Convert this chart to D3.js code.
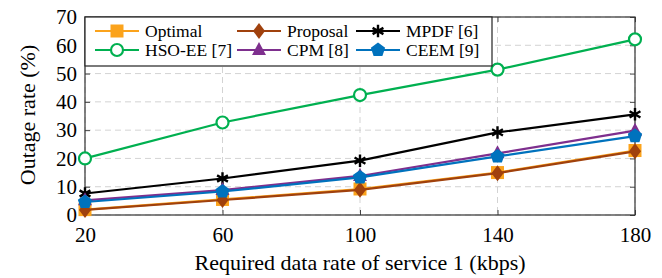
<!DOCTYPE html>
<html>
<head>
<meta charset="utf-8">
<script src="https://cdn.jsdelivr.net/npm/d3@7"></script>
<style>
  body { margin: 0; background: #fff; }
  text { font-family: "Liberation Serif", "DejaVu Serif", serif; fill: #000; }
</style>
</head>
<body>
<div id="chart"></div>
<script>
// data
const rates = [20, 60, 100, 140, 180];
const yTicks = [0, 10, 20, 30, 40, 50, 60, 70];
const optimal = [1.9, 5.5, 9.2, 15.0, 22.8];
const proposal = [1.8, 5.3, 8.9, 14.8, 22.5];
const mpdf = [7.6, 12.9, 19.2, 29.2, 35.6];
const hsoee = [20.0, 32.7, 42.4, 51.4, 62.1];
const cpm = [5.2, 8.8, 13.8, 21.8, 29.8];
const ceem = [4.6, 8.3, 13.3, 20.7, 27.9];

const series = [
    { name: "Optimal", values: optimal, color: "#FBA31C", marker: "square" },
    { name: "Proposal", values: proposal, color: "#A0410D", marker: "diamond" },
    { name: "MPDF [6]", values: mpdf, color: "#000000", marker: "star" },
    { name: "HSO-EE [7]", values: hsoee, color: "#00B050", marker: "circle" },
    { name: "CPM [8]", values: cpm, color: "#7E2F8E", marker: "triangle" },
    { name: "CEEM [9]", values: ceem, color: "#0072BD", marker: "pentagon" }
];

const W = 662, H = 278;
const margin = { top: 17, right: 27, bottom: 63, left: 85 };
const width = W - margin.left - margin.right,
    height = H - margin.top - margin.bottom;

const svg = d3.select("#chart").append("svg")
    .attr("width", W).attr("height", H);
const g = svg.append("g")
    .attr("transform", `translate(${margin.left},${margin.top})`);

const x = d3.scaleLinear().domain([20, 180]).range([0, width]);
const y = d3.scaleLinear().domain([0, 70]).range([height, 0]);

// grid
g.append("g").selectAll("line").data(rates).enter().append("line")
    .attr("x1", d => x(d)).attr("x2", d => x(d))
    .attr("y1", 0).attr("y2", height)
    .attr("stroke", "#c8c8c8").attr("stroke-dasharray", "6,4").attr("stroke-width", 0.8);
g.append("g").selectAll("line").data(yTicks).enter().append("line")
    .attr("x1", 0).attr("x2", width)
    .attr("y1", d => y(d)).attr("y2", d => y(d))
    .attr("stroke", "#c8c8c8").attr("stroke-dasharray", "6,4").attr("stroke-width", 0.8);

// axes
const xAxis = g.append("g").attr("transform", `translate(0,${height})`)
    .call(d3.axisBottom(x).tickValues(rates).tickSize(-5).tickPadding(12));
const yAxis = g.append("g")
    .call(d3.axisLeft(y).tickValues(yTicks).tickSize(-5).tickPadding(8));
g.append("g").attr("transform", `translate(${width},0)`)
    .call(d3.axisRight(y).tickValues(yTicks).tickSize(-5).tickFormat(""));
g.append("g")
    .call(d3.axisTop(x).tickValues(rates).tickSize(-5).tickFormat(""));
g.selectAll(".domain").remove();
g.selectAll(".tick line").attr("stroke", "#444");
[xAxis, yAxis].forEach(a => a.selectAll("text")
    .style("font-size", "21px").attr("fill", "#000"));

g.append("rect").attr("width", width).attr("height", height)
    .attr("fill", "none").attr("stroke", "#333").attr("stroke-width", 1.2);

// markers
function drawMarker(sel, type, color) {
    if (type === "square") {
        sel.append("rect").attr("x", -6.5).attr("y", -6.5).attr("width", 13).attr("height", 13).attr("fill", color);
    } else if (type === "diamond") {
        sel.append("path").attr("d", "M0,-8L6,0L0,8L-6,0Z").attr("fill", color);
    } else if (type === "star") {
        sel.append("path").attr("d", d3.symbol().type(d3.symbolAsterisk).size(110)())
            .attr("fill", "none").attr("stroke", color).attr("stroke-width", 2.4);
    } else if (type === "circle") {
        sel.append("circle").attr("r", 6).attr("fill", "#fff").attr("stroke", color).attr("stroke-width", 2.2);
    } else if (type === "triangle") {
        sel.append("path").attr("d", "M0,-8L7,5L-7,5Z").attr("fill", color);
    } else if (type === "pentagon") {
        const pts = d3.range(5).map(i => {
            const a = -Math.PI / 2 + i * 2 * Math.PI / 5;
            return [7.5 * Math.cos(a), 7.5 * Math.sin(a)];
        });
        sel.append("path").attr("d", "M" + pts.join("L") + "Z").attr("fill", color);
    }
}

const line = d3.line().x((d, i) => x(rates[i])).y(d => y(d));

series.forEach(s => {
    g.append("path").datum(s.values)
        .attr("d", line).attr("fill", "none")
        .attr("stroke", s.color).attr("stroke-width", 2.2);
    s.values.forEach((v, i) => {
        const m = g.append("g").attr("transform", `translate(${x(rates[i])},${y(v)})`);
        drawMarker(m, s.marker, s.color);
    });
});

// legend
const legend = svg.append("g").attr("transform", `translate(${margin.left},${margin.top})`);
legend.append("rect").attr("width", 407).attr("height", 49)
    .attr("fill", "#fff").attr("stroke", "#222").attr("stroke-width", 1.2);
const colX = [10, 152, 271];
const colText = [60, 202, 321];
const rowY = [14, 33];
series.forEach((s, idx) => {
    const c = idx % 3, r = Math.floor(idx / 3);
    const lg = legend.append("g");
    lg.append("line").attr("x1", colX[c]).attr("x2", colX[c] + 44)
        .attr("y1", rowY[r]).attr("y2", rowY[r])
        .attr("stroke", s.color).attr("stroke-width", 2.2);
    const m = lg.append("g").attr("transform", `translate(${colX[c] + 22},${rowY[r]})`);
    drawMarker(m, s.marker, s.color);
    lg.append("text").attr("x", colText[c]).attr("y", rowY[r] + 6)
        .style("font-size", "17.5px").text(s.name);
});

// axis labels
svg.append("text").attr("x", margin.left + width / 2).attr("y", 270)
    .attr("text-anchor", "middle").style("font-size", "22px")
    .text("Required data rate of service 1 (kbps)");
svg.append("text")
    .attr("transform", "translate(35,115) rotate(-90)")
    .attr("text-anchor", "middle").style("font-size", "22px")
    .text("Outage rate (%)");
</script>
</body>
</html>
